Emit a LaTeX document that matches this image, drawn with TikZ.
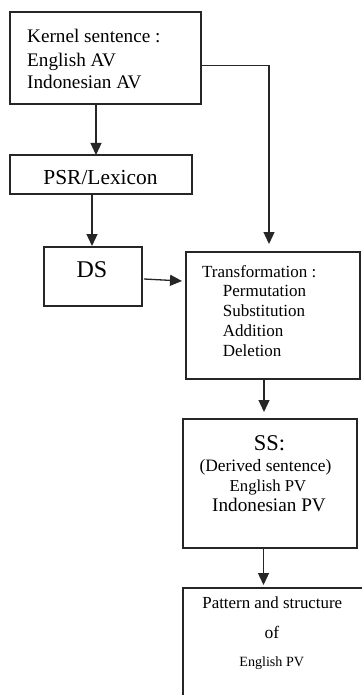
\documentclass[tikz,border=0pt]{standalone}
\usepackage{fontspec}
\setmainfont{Liberation Serif}
\usetikzlibrary{arrows.meta}
\newcommand{\fs}[1]{\fontsize{#1}{#1}\selectfont}
\begin{document}
\begin{tikzpicture}[x=1pt,y=-1pt,
  box/.style={draw=black!85, line width=1.3pt, anchor=north west, inner sep=0pt, outer sep=0pt},
  txt/.style={anchor=base west, inner sep=0pt},
  ctxt/.style={anchor=base, inner sep=0pt},
  flow/.style={draw=black!85, line width=1.3pt, -{Triangle[width=11pt,length=12pt]}}]
\useasboundingbox (0,0) rectangle (361,695);
\fill[white] (0,0) rectangle (361,695);

% boxes
\node[box, minimum width=191pt, minimum height=92pt]  (kernel)  at (10,12)  {};
\node[box, minimum width=182pt, minimum height=39pt]  (psr)     at (10,155) {};
\node[box, minimum width=98pt,  minimum height=59pt]  (ds)      at (44,247) {};
\node[box, minimum width=174pt, minimum height=127pt] (trans)   at (186,252) {};
\node[box, minimum width=174pt, minimum height=129pt] (ss)      at (183,419) {};
\node[box, minimum width=182pt, minimum height=125pt] (pattern) at (183,588) {};

% kernel sentence
\node[txt] (k1) at (27,42.7) {\fs{19.2}Kernel sentence :};
\node[txt] (k2) at (27,66.5) {\fs{19.2}English AV};
\node[txt] (k3) at (27,88.5) {\fs{19.2}Indonesian AV};

% PSR and DS
\node[ctxt] (psrtext) at (100.5,184) {\fs{21.4}PSR/Lexicon};
\node[ctxt] (dstext) at (92,277.7) {\fs{24}DS};

% transformation
\node[txt] (t0) at (202,277) {\fs{17}Transformation :};
\node[txt] (t1) at (222.7,296) {\fs{17}Permutation};
\node[txt] (t2) at (222.7,316.5) {\fs{17}Substitution};
\node[txt] (t3) at (222.7,336) {\fs{17}Addition};
\node[txt] (t4) at (222.7,356) {\fs{17}Deletion};

% surface structure
\node[ctxt] (s0) at (269.5,450) {\fs{22.5}SS:};
\node[ctxt] (s1) at (265.5,471.7) {\fs{17.4}(Derived sentence)};
\node[ctxt] (s2) at (268,491) {\fs{16.7}English PV};
\node[ctxt] (s3) at (269,511) {\fs{19.2}Indonesian PV};

% pattern and structure
\node[ctxt] (p0) at (272.3,608.3) {\fs{16.9}Pattern and structure};
\node[ctxt] (p1) at (272,638) {\fs{17.5}of};
\node[ctxt] (p2) at (271.7,666.7) {\fs{14.1}English PV};

% connectors
\draw[flow] ([xshift=86pt]kernel.south west) -- ([xshift=86pt]psr.north west);
\draw[flow] ([yshift=-7.7pt]kernel.east) -| ([xshift=-4pt,yshift=8pt]trans.north);
\draw[flow] ([xshift=82pt]psr.south west) -- ([xshift=48pt,yshift=1pt]ds.north west);
\draw[flow] ([xshift=2pt,yshift=-2.5pt]ds.east) -- ([xshift=-4pt,yshift=34.5pt]trans.west);
\draw[flow] ([xshift=-9pt]trans.south) -- ([xshift=-6pt,yshift=7pt]ss.north);
\draw[flow] ([xshift=-6.5pt]ss.south) -- ([xshift=-10.5pt,yshift=3pt]pattern.north);
\end{tikzpicture}
\end{document}
